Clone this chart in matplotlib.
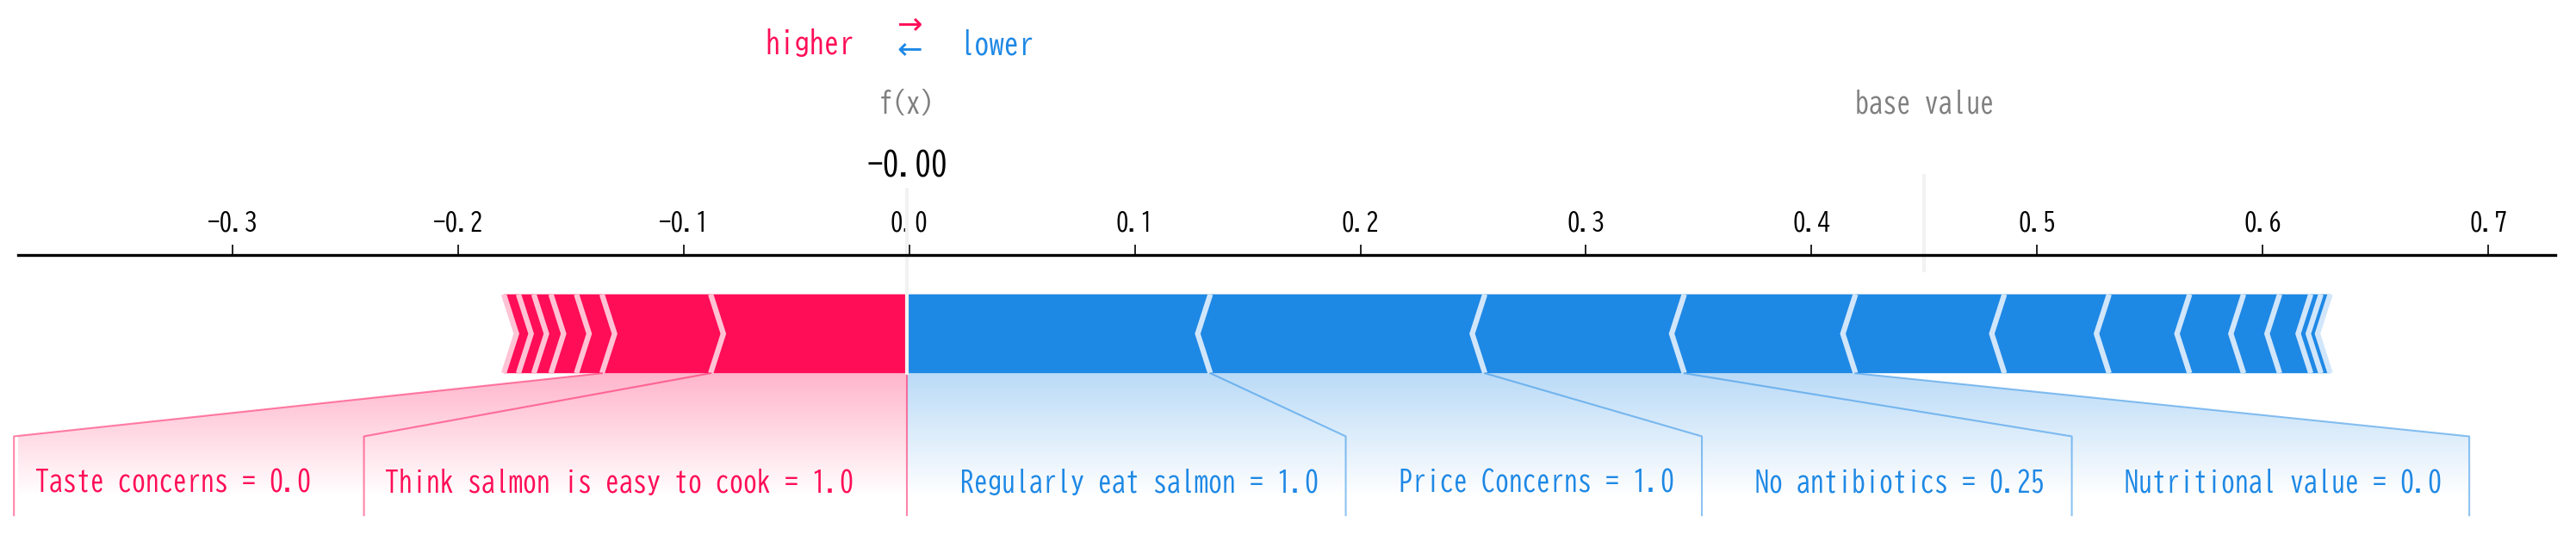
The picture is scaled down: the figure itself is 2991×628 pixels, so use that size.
import numpy as np
import matplotlib
matplotlib.use("Agg")
import matplotlib.pyplot as plt
from matplotlib import lines
from matplotlib.path import Path
from matplotlib.patches import PathPatch
from matplotlib.colors import LinearSegmentedColormap

plt.rcParams.update({
    "font.family": ["BIZ UDGothic", "DejaVu Sans Mono"],
    "axes.unicode_minus": False,
})

# SHAP force plot values
base_value = 0.450
out_value = -0.001
out_name = "f(x)"

# features pushing the output higher (red), largest effect first
pos_names = ["Think salmon is easy to cook", "Taste concerns"]
pos_feature_values = ["1.0", "0.0"]
pos_effects = [0.0870, 0.0482, 0.0113, 0.0113, 0.0076, 0.0068, 0.0065]

# features pushing the output lower (blue), largest effect first
neg_names = ["Regularly eat salmon", "Price Concerns", "No antibiotics", "Nutritional value"]
neg_feature_values = ["1.0", "1.0", "0.25", "0.0"]
neg_effects = [0.1345, 0.1217, 0.0884, 0.0759, 0.0660, 0.0464,
               0.0357, 0.0239, 0.0160, 0.0138, 0.0045, 0.0041]

x_ticks = [-0.3, -0.2, -0.1, 0.0, 0.1, 0.2, 0.3, 0.4, 0.5, 0.6, 0.7]

POS, POS_LIGHT = "#FF0D57", "#FFC3D5"
NEG, NEG_LIGHT = "#1E88E5", "#D1E6FA"

XLIM = (-0.395, 0.7297)
YLIM = (-0.2126, 0.15)
width_bar = 0.1
width_sep = (XLIM[1] - XLIM[0]) / 200
text_offset = 0.0235
box_gap = {"positive": 0.0095, "negative": 0.0122}
label_size = 15.3

fig = plt.figure(figsize=(2991 / 150, 628 / 150), dpi=150)
ax = fig.add_axes([21 / 2991, 0.0, (2967 - 21) / 2991, (628 - 295.8) / 628])
ax.set_xlim(*XLIM)
ax.set_ylim(*YLIM)


def draw_bars(effects, side):
    if side == "positive":
        bounds = out_value - np.cumsum(effects)
        c_bar, c_sep, indent = POS, POS_LIGHT, width_sep
    else:
        bounds = out_value + np.cumsum(effects)
        c_bar, c_sep, indent = NEG, NEG_LIGHT, -width_sep

    rects, seps = [], []
    pre = out_value
    for i, b in enumerate(bounds):
        if side == "positive":
            left, right, sep_pos = b, pre, b
        else:
            left, right, sep_pos = pre, b, b
        pre = b

        if i == 0:
            if side == "positive":
                pts = [[left, 0], [right, 0], [right, width_bar], [left, width_bar],
                       [left + indent, width_bar / 2]]
            else:
                pts = [[right, 0], [left, 0], [left, width_bar], [right, width_bar],
                       [right + indent, width_bar / 2]]
        else:
            pts = [[left, 0], [right, 0], [right + indent * 0.9, width_bar / 2],
                   [right, width_bar], [left, width_bar], [left + indent * 0.9, width_bar / 2]]
        rects.append(plt.Polygon(pts, closed=True, fill=True, facecolor=c_bar, linewidth=0))

        sep_pts = [[sep_pos, 0], [sep_pos + indent, width_bar / 2], [sep_pos, width_bar]]
        seps.append(plt.Polygon(sep_pts, closed=False, fill=False, edgecolor=c_sep, lw=3))

    for p in rects + seps:
        ax.add_patch(p)
    return bounds


def draw_labels(names, values, bounds, side):
    renderer = fig.canvas.get_renderer()
    if side == "positive":
        color, ha, sign = POS, "right", 1
        shade = np.array([(255, 13, 87), (255, 255, 255)]) / 255.0
        line = lines.Line2D([out_value, out_value], [0, -0.18], lw=1.0, alpha=0.5, color=color)
        line.set_clip_on(False)
        ax.add_line(line)
    else:
        color, ha, sign = NEG, "left", -1
        shade = np.array([(30, 136, 229), (255, 255, 255)]) / 255.0

    start = out_value
    pre = out_value
    box_end = out_value
    for name, value, b in zip(names, values, bounds):
        txt = ax.text(start - sign * text_offset, -0.15, f"{name} = {value}",
                      fontsize=label_size, color=color, ha=ha, va="baseline")
        ext = txt.get_window_extent(renderer).transformed(ax.transData.inverted())
        edge = ext.x0 if side == "positive" else ext.x1
        box_end = edge - sign * box_gap[side]

        line = lines.Line2D([b, box_end, box_end], [0, -0.08, -0.18], lw=1.0, alpha=0.5, color=color)
        line.set_clip_on(False)
        ax.add_line(line)
        start = box_end
        pre = b

    # shaded area under the labelled features
    path = Path([[out_value, 0], [pre, 0], [box_end, -0.08], [box_end, -0.2],
                 [out_value, -0.2], [out_value, 0]])
    patch = PathPatch(path, facecolor="none", edgecolor="none")
    ax.add_patch(patch)

    cm = LinearSegmentedColormap.from_list("shade", shade)
    _, Z2 = np.meshgrid(np.linspace(0, 10), np.linspace(-10, 10))
    im = ax.imshow(Z2, interpolation="quadric", cmap=cm, vmax=0.01, alpha=0.3, origin="lower",
                   extent=[out_value, box_end, 0, -0.31], aspect="auto")
    im.set_clip_path(patch)


neg_bounds = draw_bars(neg_effects, "negative")
pos_bounds = draw_bars(pos_effects, "positive")

draw_labels(neg_names, neg_feature_values, neg_bounds, "negative")
draw_labels(pos_names, pos_feature_values, pos_bounds, "positive")

# higher / lower legend
ax.text(out_value - text_offset, 0.405, "higher", fontsize=16.5, color=POS, ha="right")
ax.text(out_value + text_offset, 0.405, "lower", fontsize=16.5, color=NEG, ha="left")
ax.text(out_value, 0.401, r"$\leftarrow$", fontsize=17, color=NEG, ha="center")
ax.text(out_value, 0.432, r"$\rightarrow$", fontsize=17, color=POS, ha="center")

# base value marker
line = lines.Line2D([base_value, base_value], [0.13, 0.25], lw=2.0, color="#F2F2F2")
line.set_clip_on(False)
ax.add_line(line)
t = ax.text(base_value, 0.33, "base value", fontsize=15.4, alpha=0.5, ha="center")
t.set_bbox(dict(facecolor="white", edgecolor="white"))

# output value marker
line = lines.Line2D([out_value, out_value], [0, 0.24], lw=2.0, color="#F2F2F2")
line.set_clip_on(False)
ax.add_line(line)
t = ax.text(out_value, 0.25, f"{out_value:.2f}", fontsize=18, ha="center")
t.set_bbox(dict(facecolor="white", edgecolor="white"))
t = ax.text(out_value, 0.33, out_name, fontsize=15.4, alpha=0.5, ha="center")
t.set_bbox(dict(facecolor="white", edgecolor="white"))

# axis: only the top spine with ticks
ax.set_xlim(*XLIM)
ax.set_ylim(*YLIM)
ax.set_xticks(x_ticks)
ax.set_xticklabels([f"{v:.1f}" for v in x_ticks])
ax.set_yticks([])
ax.tick_params(top=True, bottom=False, left=False, right=False,
               labelleft=False, labeltop=True, labelbottom=False,
               labelsize=14, length=6, width=0.8, pad=6)
for key, spine in ax.spines.items():
    if key != "top":
        spine.set_visible(False)
ax.spines["top"].set_linewidth(1.6)
ax.patch.set_alpha(0)

fig.savefig("out.png", dpi=150)
